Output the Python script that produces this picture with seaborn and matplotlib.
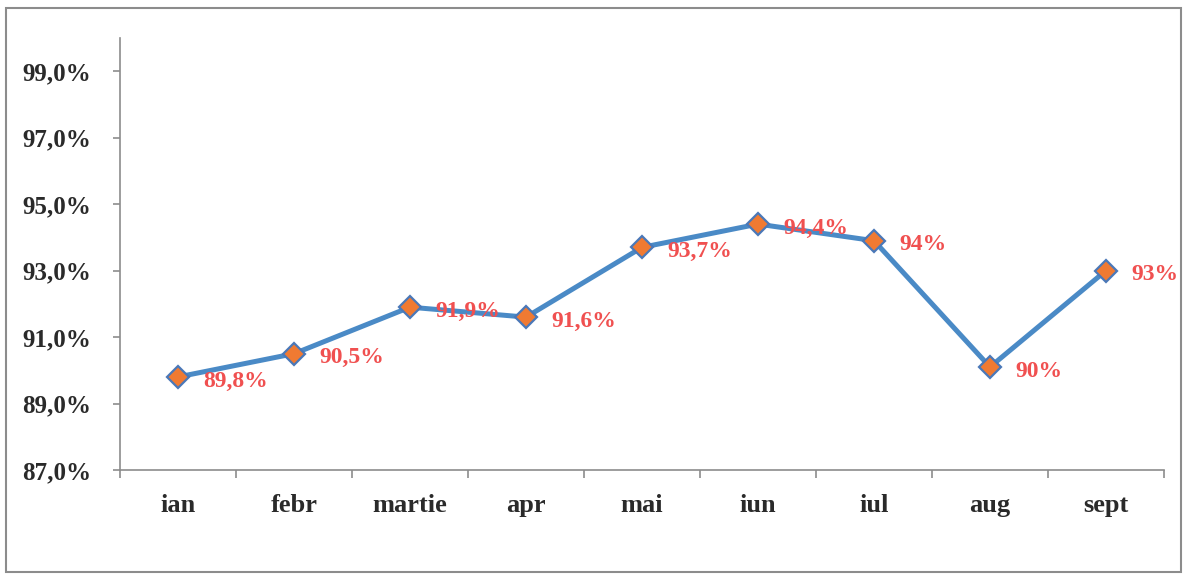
import matplotlib
matplotlib.use("Agg")
import matplotlib.pyplot as plt
import seaborn as sns
import pandas as pd
import numpy as np
from matplotlib.patches import Rectangle
from matplotlib.ticker import FuncFormatter, FixedLocator

months = ["ian", "febr", "martie", "apr", "mai", "iun", "iul", "aug", "sept"]
values = [89.8, 90.5, 91.9, 91.6, 93.7, 94.4, 93.9, 90.1, 93.0]
point_labels = ["89,8%", "90,5%", "91,9%", "91,6%", "93,7%", "94,4%", "94%", "90%", "93%"]
y_ticks = [87, 89, 91, 93, 95, 97, 99]

sns.set_theme(style="white")
plt.rcParams['font.family'] = ['Liberation Serif', 'DejaVu Serif']

df = pd.DataFrame({"month": months, "value": values})

fig = plt.figure(figsize=(11.87, 5.74), dpi=100)
ax = fig.add_axes([120/1187, 1-470/574, (1164-120)/1187, (470-38)/574])

sns.lineplot(data=df, x="month", y="value", sort=False, ax=ax,
             color="#4A8AC6", linewidth=3.6, marker="D", markersize=11,
             markerfacecolor="#F07A32", markeredgecolor="#4A78B8",
             markeredgewidth=1.6)

ax.set_xlim(-0.5, len(months) - 0.5)
ax.set_ylim(87, 100)
ax.set_yticks(y_ticks)
ax.yaxis.set_major_formatter(FuncFormatter(lambda v, p: f"{v:.1f}%".replace(".", ",")))
ax.set_xticks(range(len(months)))
ax.set_xticklabels(months)
ax.xaxis.set_minor_locator(FixedLocator(np.arange(-0.5, len(months), 1.0)))

ax.set_xlabel("")
ax.set_ylabel("")
for s in ["top", "right"]:
    ax.spines[s].set_visible(False)
for s in ["left", "bottom"]:
    ax.spines[s].set_color("#8c8c8c")
    ax.spines[s].set_linewidth(1.2)

ax.tick_params(axis="x", which="major", length=0, pad=17, labelsize=19,
               labelcolor="#2a2a2a")
ax.tick_params(axis="x", which="minor", length=5.5, width=1.2, color="#8c8c8c",
               direction="out", bottom=True)
ax.tick_params(axis="y", which="major", length=5, width=1.2, color="#8c8c8c",
               direction="out", left=True, pad=15.5, labelsize=18,
               labelcolor="#2a2a2a")
for lab in ax.get_xticklabels() + ax.get_yticklabels():
    lab.set_fontweight("bold")

for i, (v, t) in enumerate(zip(values, point_labels)):
    ax.annotate(t, (i, v), xytext=(18, -3), textcoords="offset points",
                ha="left", va="center", fontsize=17, fontweight="bold",
                color="#F05050")

fig.patches.append(Rectangle((6/1187, 2/574), (1181-6)/1187, (566-2)/574,
                             transform=fig.transFigure, fill=False,
                             edgecolor="#8c8c8c", linewidth=1.5))

fig.savefig("out.png", dpi=100)
